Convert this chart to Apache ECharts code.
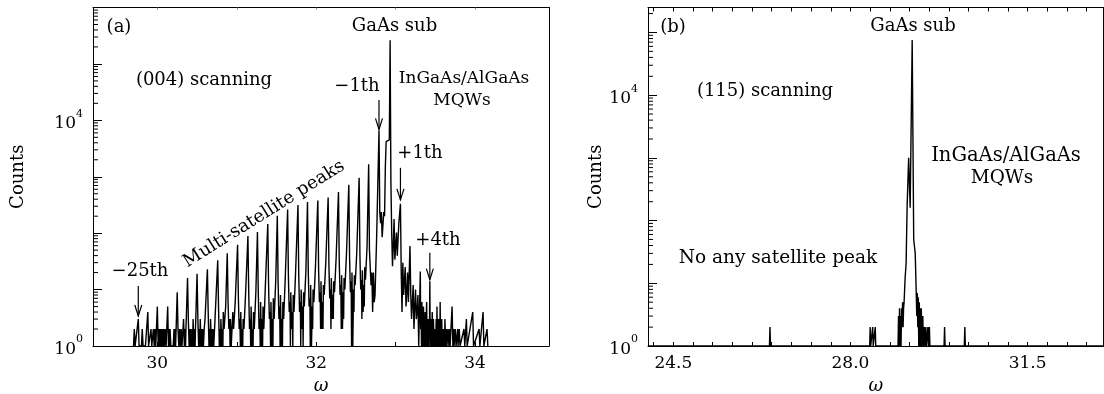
<!DOCTYPE html>
<html><head><meta charset="utf-8">
<script src="https://cdn.jsdelivr.net/npm/echarts@6/dist/echarts.min.js"></script>
<style>html,body{margin:0;padding:0;background:#fff}#c{width:1104px;height:394px}</style>
</head><body><div id="c"></div>
<script>
// (004) scan: [omega, counts]
const scan004 = [
[29.70,1],[29.71,2],[29.72,1],[29.76,3],[29.77,1],[29.80,1],[29.81,2],[29.82,1],[29.85,1],[29.88,4],[29.89,1],
[29.92,2],[29.93,1],[29.95,2],[29.96,1],[29.97,2],[29.98,1],[30.00,5],[30.01,1],[30.02,2],[30.025,1],[30.03,2],[30.04,1],[30.045,2],[30.05,1],[30.055,2],
[30.06,1],[30.07,2],[30.075,1],[30.08,2],[30.09,1],[30.10,2],[30.11,1],[30.13,5],[30.14,1],[30.15,2],[30.155,1],[30.16,2],[30.17,1],[30.20,1],[30.21,2],[30.215,1],[30.22,2],[30.23,1],[30.25,9],
[30.26,2],[30.27,1],[30.28,2],[30.29,1],[30.30,2],[30.31,1],[30.33,3],[30.34,1],[30.35,2],[30.355,1],[30.36,2],[30.38,16],[30.39,3],[30.40,1],[30.41,2],[30.415,1],[30.42,2],
[30.43,1],[30.44,2],[30.445,1],[30.45,3],[30.46,1],[30.47,2],[30.475,1],[30.48,2],[30.50,19],[30.51,3],[30.52,1],[30.53,2],[30.535,1],[30.54,3],[30.55,1],[30.56,2],[30.565,1],[30.57,2],[30.58,1],
[30.59,2],[30.60,3],[30.63,23],[30.64,4],[30.65,1],[30.66,2],[30.665,1],[30.67,3],[30.68,1],[30.69,2],[30.695,1],[30.70,2],[30.71,1],[30.73,4],[30.76,33],[30.77,5],
[30.78,1],[30.79,2],[30.795,1],[30.80,3],[30.81,1],[30.82,2],[30.825,1],[30.83,4],[30.84,2],[30.86,5],[30.88,44],[30.89,6],[30.90,2],[30.91,3],[30.915,1],[30.92,3],[30.93,1],
[30.94,2],[30.95,4],[30.96,2],[30.98,6],[31.01,62],[31.02,7],[31.03,2],[31.04,3],[31.045,1],[31.05,4],[31.06,1],[31.07,2],[31.075,1],[31.08,3],[31.09,2],[31.11,8],
[31.14,89],[31.15,9],[31.16,2],[31.17,3],[31.175,1],[31.18,5],[31.19,1],[31.20,2],[31.205,1],[31.21,4],[31.22,2],[31.24,9],[31.26,105],[31.27,10],[31.28,2],
[31.29,3],[31.295,1],[31.30,6],[31.31,1],[31.32,3],[31.325,1],[31.33,5],[31.34,2],[31.36,12],[31.39,145],[31.40,12],[31.41,3],[31.42,4],[31.425,1],[31.43,6],[31.44,1],[31.45,3],[31.455,1],[31.46,7],
[31.47,3],[31.49,14],[31.51,204],[31.52,14],[31.53,3],[31.54,5],[31.545,1],[31.55,8],[31.56,1],[31.57,3],[31.575,1],[31.58,6],[31.59,3],[31.61,16],[31.64,263],
[31.65,16],[31.66,4],[31.67,6],[31.675,1],[31.68,9],[31.69,2],[31.70,4],[31.705,1],[31.71,8],[31.72,4],[31.74,20],[31.77,316],[31.78,18],[31.79,4],[31.80,6],[31.805,1],[31.81,10],
[31.82,2],[31.83,5],[31.835,1],[31.84,9],[31.85,5],[31.87,22],[31.89,355],[31.90,20],[31.91,5],[31.92,7],[31.925,1],[31.93,12],[31.94,1],[31.95,5],[31.955,2],[31.96,10],[31.97,6],
[31.99,25],[32.02,380],[32.03,22],[32.04,6],[32.05,9],[32.055,2],[32.06,14],[32.07,2],[32.08,6],[32.085,2],[32.09,12],[32.10,8],[32.12,30],[32.15,427],[32.16,26],
[32.17,7],[32.18,10],[32.185,2],[32.19,16],[32.20,3],[32.21,8],[32.215,3],[32.22,14],[32.23,9],[32.25,35],[32.28,537],[32.29,30],[32.30,8],[32.31,12],[32.315,2],[32.32,18],[32.33,2],
[32.34,9],[32.345,3],[32.35,16],[32.36,10],[32.38,40],[32.41,724],[32.42,35],[32.43,9],[32.44,14],[32.445,1],[32.45,20],[32.46,1],[32.47,10],[32.475,4],[32.48,18],[32.49,12],[32.51,45],
[32.54,955],[32.55,40],[32.56,10],[32.57,15],[32.575,3],[32.58,22],[32.59,4],[32.60,12],[32.605,5],[32.61,25],[32.62,15],[32.64,60],[32.66,1660],[32.67,50],
[32.69,12],[32.70,20],[32.71,4],[32.72,20],[32.73,6],[32.74,8],[32.76,80],[32.79,6600],[32.80,236],[32.81,150],[32.82,236],[32.83,85],
[32.84,90],[32.85,236],[32.86,200],[32.87,1500],[32.88,4200],[32.90,4000],[32.92,4500],[32.93,263000],[32.94,800],
[32.95,103],[32.96,26],[32.97,60],[32.98,178],[32.99,34],[33.00,60],[33.01,103],[33.02,40],[33.04,150],[33.06,331],
[33.07,20],[33.08,4],[33.09,30],[33.10,8],[33.11,14],[33.12,25],[33.13,5],[33.14,9],[33.15,20],[33.16,6],[33.18,59],[33.19,8],[33.20,3],[33.21,6],
[33.22,12],[33.23,2],[33.24,5],[33.25,10],[33.26,3],[33.27,4],[33.28,8],[33.29,1],[33.31,21],[33.315,2],[33.32,4],[33.325,1],[33.33,6],[33.335,2],[33.34,1],[33.345,3],[33.35,5],
[33.355,1],[33.36,3],[33.365,1],[33.37,4],[33.375,2],[33.38,1],[33.385,3],[33.39,6],[33.395,1],[33.40,2],[33.405,1],[33.41,3],[33.415,1],[33.42,3],[33.425,2],[33.43,14],[33.435,1],[33.44,2],[33.445,1],[33.45,3],[33.455,1],[33.46,4],[33.465,2],[33.47,1],[33.475,3],[33.48,3],
[33.485,1],[33.49,2],[33.495,1],[33.50,2],[33.505,1],[33.51,3],[33.515,1],[33.52,5],[33.525,1],[33.53,2],[33.535,1],[33.54,3],[33.545,1],[33.55,2],[33.555,1],[33.56,6],[33.565,1],[33.57,2],[33.575,1],[33.58,3],[33.585,1],[33.59,2],[33.595,1],[33.60,2],[33.605,1],[33.61,2],[33.615,1],[33.62,3],
[33.63,1],[33.64,2],[33.645,1],[33.66,2],[33.67,1],[33.68,2],[33.685,1],[33.71,5],[33.72,1],[33.73,2],[33.735,1],[33.75,2],[33.76,1],[33.78,2],[33.785,1],[33.80,2],[33.81,1],[33.86,2],[33.87,1],
[33.89,3],[33.90,1],[33.97,4],[33.98,1],[34.05,2],[34.06,1],[34.10,4],[34.11,1],[34.15,2],[34.16,1]
];
// (115) scan: [omega, counts]
const scan115 = [
[24.00,1],[26.40,1],[26.41,2],[26.42,1],[28.38,1],[28.39,2],[28.40,1],[28.43,1],[28.44,2],[28.45,1],[28.48,1],[28.49,2],
[28.50,1],[28.94,1],[28.95,3],[28.96,1],[28.97,4],[28.98,1],[28.99,3],[29.00,1],[29.01,4],[29.02,2],[29.03,5],[29.04,2],
[29.05,4],[29.06,5],[29.08,12],[29.10,21],[29.12,170],[29.15,1000],[29.16,950],[29.18,160],[29.22,76000],[29.25,50],
[29.28,30],[29.30,7],[29.31,3],[29.32,7],[29.33,2],[29.34,6],[29.35,1],[29.36,5],[29.37,1],[29.38,4],[29.39,1],[29.40,4],
[29.41,1],[29.43,3],[29.44,1],[29.46,2],[29.47,1],[29.49,2],[29.50,1],[29.53,2],[29.54,1],[29.56,2],[29.57,1],[29.85,1],
[29.86,2],[29.87,1],[30.25,1],[30.26,2],[30.27,1],[33.00,1]
];
// arrows: [omega, tail counts, tip counts]
const arrows004 = [[29.76, 11.6, 3.4], [32.79, 23000, 6900], [33.06, 1440, 390], [33.43, 45, 15]];
const xLabels004 = [30, 32, 34];
const xLabels115 = [24.5, 28.0, 31.5];
const yLabelValues = [1, 10000];

const FONT = "'DejaVu Serif', serif";
const X004 = [29.19, 34.93], X115 = [24.0, 33.0];
const Y004 = [1, 1e6], Y115 = [1, 2.5e5];

function logMinors(max) { const out = []; for (let d = 1; d <= max; d *= 10) for (let k = 2; k <= 9; k++) if (k * d <= max) out.push(k * d); return out; }
const ticks115 = []; for (let k = -1; k <= 23; k++) { const v = 24.5 + k * 3.5 / 9; if (v > X115[0] && v < X115[1]) ticks115.push(+v.toFixed(4)); }

function supLabel(v) {
  for (const t of yLabelValues) if (Math.abs(v - t) / t < 1e-6) return '{b|10}{s|' + Math.round(Math.log10(t)) + '}';
  return '';
}
const rich = {
  b: { fontFamily: FONT, fontSize: 17, color: '#000', lineHeight: 24, verticalAlign: 'bottom' },
  s: { fontFamily: FONT, fontSize: 11, color: '#000', lineHeight: 12, verticalAlign: 'top' }
};
const black = { color: '#000', width: 1 };

function xAxes(grid, ext, labels, ticks, fmt, topTicks, topColor, topLen) {
  return [
    { gridIndex: grid, type: 'value', min: ext[0], max: ext[1], position: 'bottom',
      axisLine: { show: true, onZero: false, lineStyle: black },
      axisTick: { show: true, inside: true, length: 4, customValues: ticks, lineStyle: black },
      axisLabel: { customValues: labels, formatter: fmt, fontFamily: FONT, fontSize: 17, color: '#000', margin: 9 },
      splitLine: { show: false },
      name: 'ω', nameLocation: 'middle', nameGap: 31,
      nameTextStyle: { fontFamily: FONT, fontStyle: 'italic', fontSize: 18, color: '#000' } },
    { gridIndex: grid, type: 'value', min: ext[0], max: ext[1], position: 'top',
      axisLine: { show: true, onZero: false, lineStyle: black },
      axisTick: { show: true, inside: true, length: topLen, customValues: topTicks, lineStyle: { color: topColor, width: 1 } },
      axisLabel: { show: false }, splitLine: { show: false } }
  ];
}
function yAxes(grid, ext, gap) {
  return [
    { gridIndex: grid, type: 'log', logBase: 10, min: ext[0], max: ext[1], position: 'left',
      axisLine: { show: true, lineStyle: black },
      axisTick: { show: true, inside: true, length: 9, lineStyle: black },
      axisLabel: { formatter: supLabel, rich: rich, margin: 10, showMinLabel: true },
      splitLine: { show: false }, minorTick: { show: false },
      name: 'Counts', nameLocation: 'middle', nameGap: gap, nameRotate: 90,
      nameTextStyle: { fontFamily: FONT, fontSize: 18, color: '#000' } },
    { gridIndex: grid, type: 'log', logBase: 10, min: ext[0], max: ext[1], position: 'right',
      axisLine: { show: true, lineStyle: black }, axisTick: { show: false },
      axisLabel: { show: false }, splitLine: { show: false } }
  ];
}
function minorSeries(xi, yi, xEdge, values) {
  return { type: 'custom', xAxisIndex: xi, yAxisIndex: yi, silent: true, clip: false, z: 5,
    data: values.map(v => [xEdge, v]), encode: { x: 0, y: 1 },
    renderItem: (params, api) => {
      const p = api.coord([api.value(0), api.value(1)]);
      return { type: 'line', shape: { x1: p[0], y1: p[1], x2: p[0] + 5, y2: p[1] }, style: { stroke: '#000', lineWidth: 1 } };
    } };
}
const arrowSeries = { type: 'custom', xAxisIndex: 0, yAxisIndex: 0, silent: true, clip: false, z: 6,
  data: arrows004, encode: { x: 0, y: [1, 2] },
  renderItem: (params, api) => {
    const a = api.coord([api.value(0), api.value(1)]);
    const b = api.coord([api.value(0), api.value(2)]);
    return { type: 'group', children: [
      { type: 'line', shape: { x1: a[0], y1: a[1], x2: b[0], y2: b[1] }, style: { stroke: '#000', lineWidth: 1.2 } },
      { type: 'polyline', shape: { points: [[b[0] - 3.5, b[1] - 11], [b[0], b[1]], [b[0] + 3.5, b[1] - 11]] }, style: { stroke: '#000', lineWidth: 1.2, fill: null } }
    ] };
  } };

function txt(x, y, text, size, rot) {
  return { type: 'text', x: x, y: y, rotation: rot || 0, z: 10,
    style: { text: text, fontFamily: 'DejaVu Serif', fontSize: size, fill: '#000',
      align: 'center', verticalAlign: 'middle', textAlign: 'center', textVerticalAlign: 'middle' } };
}

const chart = echarts.init(document.getElementById('c'), null, { renderer: 'canvas' });
chart.setOption({
  animation: false,
  backgroundColor: '#fff',
  grid: [
    { left: 93, top: 7.5, width: 456, height: 338.5, containLabel: false, outerBoundsMode: 'none' },
    { left: 648, top: 7.5, width: 455.5, height: 338.5, containLabel: false, outerBoundsMode: 'none' }
  ],
  xAxis: [
    ...xAxes(0, X004, xLabels004, [30, 31, 32, 33, 34], v => String(v), [30, 31, 32, 33, 34], '#888', 2),
    ...xAxes(1, X115, xLabels115, ticks115, v => v.toFixed(1), ticks115, '#000', 4)
  ],
  yAxis: [ ...yAxes(0, Y004, 66), ...yAxes(1, Y115, 39) ],
  series: [
    { type: 'line', xAxisIndex: 0, yAxisIndex: 0, data: scan004, showSymbol: false, symbol: 'none',
      lineStyle: { color: '#000', width: 1.4 }, clip: true, animation: false },
    { type: 'line', xAxisIndex: 2, yAxisIndex: 2, data: scan115, showSymbol: false, symbol: 'none',
      lineStyle: { color: '#000', width: 1.4 }, clip: true, animation: false },
    minorSeries(0, 0, X004[0], logMinors(Y004[1])),
    minorSeries(2, 2, X115[0], logMinors(Y115[1])),
    arrowSeries
  ],
  graphic: [
    txt(119, 27, '(a)', 18),
    txt(394.5, 26, 'GaAs sub', 18),
    txt(204, 80, '(004) scanning', 18),
    txt(357, 86, '\u22121th', 18),
    txt(464, 79, 'InGaAs/AlGaAs', 17),
    txt(462, 101, 'MQWs', 17),
    txt(420, 153, '+1th', 18),
    txt(438, 240, '+4th', 18),
    txt(140, 271.5, '\u221225th', 18),
    txt(264, 214, 'Multi-satellite peaks', 18, 32 * Math.PI / 180),
    txt(673, 27, '(b)', 18),
    txt(913, 26, 'GaAs sub', 18),
    txt(765, 91, '(115) scanning', 18),
    txt(1006, 156, 'InGaAs/AlGaAs', 19.5),
    txt(1002, 178, 'MQWs', 18.5),
    txt(778, 258, 'No any satellite peak', 18.5)
  ]
});
</script></body></html>
